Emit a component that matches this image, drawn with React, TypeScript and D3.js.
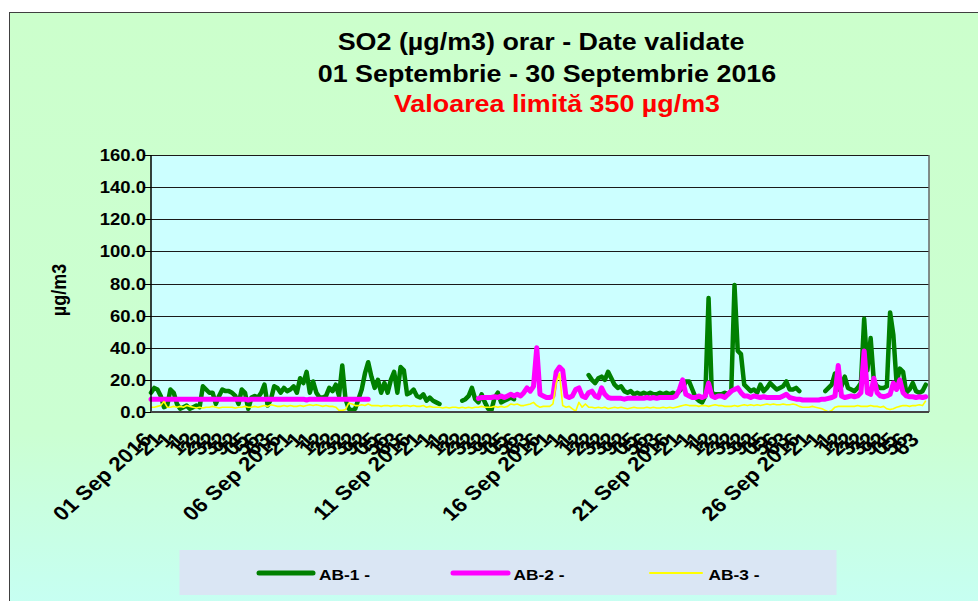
import React from 'react';
import * as d3 from 'd3';

const _ = null;

// 3-hour readings per day (8 per day), 01–30 Sep 2016
const ab1: (number | null)[][] = [
  [12, 15, 14, 10, 3, 4, 14, 12],
  [5, 2, 3, 4, 2, 3, 4, 3],
  [16, 14, 12, 12, 5, 10, 14, 13],
  [13, 12, 10, 5, 14, 12, 2, 9],
  [10, 9, 12, 17, 4, 8, 16, 15],
  [12, 15, 13, 14, 16, 12, 21, 18],
  [25, 12, 19, 12, 9, 9, 10, 15],
  [13, 17, 10, 29, 8, 2, 1, 2],
  [8, 14, 24, 31, 22, 15, 20, 12],
  [18, 12, 20, 25, 12, 28, 26, 11],
  [12, 14, 10, 9, 11, 7, 9, 7],
  [6, 5, _, _, _, _, _, _],
  [7, 8, 10, 15, 8, 6, 11, 6],
  [2, 1, 9, 12, 6, 7, 8, 9],
  [8, _, _, _, _, _, _, _],
  [_, _, _, _, _, _, _, _],
  [_, _, _, _, _, _, _, 23],
  [20, 18, 21, 22, 20, 25, 21, 17],
  [15, 16, 13, 12, 13, 11, 12, 11],
  [12, 11, 12, 11, 11, 12, 11, 12],
  [11, 12, 11, 13, 15, 19, 19, 14],
  [9, 7, 6, 10, 71, 12, 11, 11],
  [11, 12, 11, 13, 79, 38, 36, 17],
  [15, 13, 14, 12, 17, 13, 15, 18],
  [16, 14, 15, 16, 19, 14, 14, 15],
  [13, _, _, _, _, _, _, _],
  [13, 15, 17, 24, 14, 16, 22, 15],
  [14, 13, 15, 18, 58, 26, 46, 19],
  [16, 15, 15, 16, 62, 48, 18, 27],
  [25, 12, 14, 18, 13, 12, 13, 17],
];

const ab2: (number | null)[][] = [
  [8, 8, 8, 8, 8, 8, 8, 8],
  [8, 8, 8, 8, 8, 8, 8, 8],
  [8, 8, 8, 8, 8, 8, 8, 8],
  [8, 8, 8, 8, 8, 8, 7.5, 8],
  [8, 8, 8, 8, 8, 8, 8, 8],
  [8, 8, 8, 8, 8, 8, 8, 8],
  [7.5, 8, 8, 8, 8, 8, 8, 8],
  [8, 8, 8, 8, 8, 8, 8, 8],
  [8, 8, 8, 8, _, _, _, _],
  [_, _, _, _, _, _, _, _],
  [_, _, _, _, _, _, _, _],
  [_, _, _, _, _, _, _, _],
  [_, _, _, _, _, 8.5, 9, 9],
  [9, 9, 9.5, 9, 10, 9, 10, 11],
  [10, 11, 10, 12, 15, 13, 16, 40],
  [11, 10, 9, 9, 10, 25, 28, 26],
  [10, 9, 10, 14, 15, 10, 9, 12],
  [13, 10, 9, 15, 11, 9, 8.5, 8.5],
  [8.5, 8.5, 8, 8.5, 8.5, 8.5, 8.5, 8.5],
  [8.5, 9, 8.5, 9, 8.5, 9, 9, 9],
  [9, 9, 10, 14, 20, 11, 10, 9],
  [9, 10, 9, 10, 18, 10, 9, 10],
  [10, 9, 11, 13, 14, 15, 12, 10],
  [10, 9, 10, 9.5, 9, 9.5, 9, 9],
  [9, 9, 9, 10, 11, 9, 8.5, 8],
  [8, 7.5, 7.5, 7.5, 7.5, 7.5, 7.5, 8],
  [8, 8.5, 9, 10, 29, 10, 9, 9.5],
  [10, 9.5, 10, 12, 38, 12, 11, 21],
  [12, 10, 9.5, 10, 11, 18, 14, 20],
  [12, 10, 9.5, 9.5, 9, 9.5, 9, 9.5],
];

const ab3: (number | null)[][] = [
  [3, 3, 3.5, 4, 6.5, 3, 3, 3.5],
  [3, 3.5, 3, 4, 3.5, 3, 2.5, 3],
  [2.5, 3, 3, 3.5, 3, 2.5, 3, 3],
  [3, 3, 2.5, 3, 3, 3.5, 3, 3],
  [3.5, 3, 3.5, 4, 3.5, 4.5, 4, 3.5],
  [3.5, 4, 3.5, 4, 3.5, 3.5, 4, 3.5],
  [4, 4.5, 4, 4.5, 4, 3.5, 4, 3.5],
  [3.5, 3, 1, 1, 1.5, 5.5, 5, 4],
  [4, 4.5, 4, 5, 4, 4, 4, 3.5],
  [4, 4, 3.5, 4, 4, 3.5, 4, 4],
  [3.5, 4, 3.5, 3.5, 4, 3, 3.5, 3],
  [3, 3, 2.5, 3, 2.5, 3, 3, 2.5],
  [3, 2.5, 3, 2.5, 3, 3, 3.5, 3],
  [3, 3, 3.5, 3, 3.5, 3, 3.5, 5],
  [4.5, 5, 4, 4, 4.5, 5, 6, 4],
  [3, 3.5, 3.5, 3.5, 5, 18, 24, 4],
  [3, 3.5, 2, 0.5, 6, 3, 5, 3],
  [3, 2.5, 3, 2.5, 3, 2, 2.5, 3],
  [2.5, 3, 2.5, 2, 2.5, 3, 2.5, 2.5],
  [2.5, 3, 2.5, 3, 2.5, 2.5, 3, 2.5],
  [3, 2.5, 3, 3.5, 4, 4.5, 4, 4],
  [4, 3.5, 4, 4, 3.5, 4, 4.5, 4],
  [4, 3.5, 3.5, 3.5, 4, 3.5, 4, 4.5],
  [4, 4.5, 4, 4.5, 4, 4.5, 5, 4.5],
  [5, 4.5, 4.5, 5, 4.5, 4.5, 5, 4.5],
  [3.5, 3, 3, 3, 3.5, 3, 2.5, 2],
  [1, 0, 1, 3, 3.5, 3.5, 3.5, 3.5],
  [3.5, 3.5, 4, 3.5, 3.5, 3.5, 4, 3.5],
  [3.5, 3, 3.5, 2, 1.5, 2, 3, 3.5],
  [4, 4, 3.5, 4, 4, 4.5, 4, 7],
];

const yTicks = [0, 20, 40, 60, 80, 100, 120, 140, 160];
const majorLabels = ['01 Sep 2016', '06 Sep 2016', '11 Sep 2016', '16 Sep 2016', '21 Sep 2016', '26 Sep 2016'];
const majorHours = [0, 120, 240, 360, 480, 600];
const fragmentLabels = ['21', '1', '1', '12', '22', '32', '32', '92', '05', '56', '63'];
const seriesNames = ['AB-1 -', 'AB-2 -', 'AB-3 -'];
const titleLines = ['SO2 (µg/m3) orar - Date validate', '01 Septembrie - 30 Septembrie 2016', 'Valoarea limită 350 µg/m3'];

const FONT = '"Liberation Sans", Arial, Helvetica, sans-serif';
const SX = 1.12;

export default function App() {
  const W = 978, H = 601;
  const left = 151, right = 929, top = 155, bottom = 412;
  const x = d3.scaleLinear().domain([0, 720]).range([left, right]);
  const y = d3.scaleLinear().domain([0, 160]).range([bottom, top]);
  const line = d3
    .line<number | null>()
    .defined((d) => d != null)
    .x((_d, i) => x(i * 3))
    .y((d) => y(d as number));

  const s1 = ab1.flat();
  const s2 = ab2.flat();
  const s3 = ab3.flat();

  const frags: { h: number; t: string }[] = [];
  majorHours.forEach((mh) => {
    fragmentLabels.forEach((t, i) => {
      const h = mh + 10 * (i + 1);
      if (h < 720) frags.push({ h, t });
    });
  });

  const legendItems = [
    { name: seriesNames[0], color: '#008000', w: 5, x1: 259, x2: 313, tx: 319 },
    { name: seriesNames[1], color: '#ff00ff', w: 5, x1: 453, x2: 508, tx: 513.5 },
    { name: seriesNames[2], color: '#ffff00', w: 2, x1: 650, x2: 702, tx: 708.5 },
  ];

  return (
    <svg width={W} height={H} style={{ position: 'absolute', left: 0, top: 0 }} fontFamily={FONT}>
      <defs>
        <linearGradient id="bg" x1="0" y1="0" x2="0" y2="1">
          <stop offset="0" stopColor="#ccffcc" />
          <stop offset="0.7" stopColor="#cbffd2" />
          <stop offset="1" stopColor="#c6fff4" />
        </linearGradient>
      </defs>
      <rect x={0} y={0} width={W} height={H} fill="#ffffff" />
      <rect x={9.5} y={12.5} width={W} height={H} fill="url(#bg)" stroke="#404040" strokeWidth={1} />

      {/* titles */}
      {[
        { cx: 541, by: 50, c: '#000' },
        { cx: 547, by: 81.5, c: '#000' },
        { cx: 557, by: 111.5, c: '#ff0000' },
      ].map((t, i) => (
        <text
          key={i}
          transform={`translate(${t.cx},${t.by}) scale(${SX},1)`}
          textAnchor="middle"
          fontSize={24}
          fontWeight="bold"
          fill={t.c}
        >
          {titleLines[i]}
        </text>
      ))}

      {/* plot area */}
      <rect x={left} y={top} width={right - left} height={bottom - top} fill="#ccffff" />
      {yTicks.map((v) => (
        <g key={v}>
          {v > 0 && (
            <line x1={left} x2={right} y1={Math.round(y(v)) + 0.5} y2={Math.round(y(v)) + 0.5} stroke="#1a1a1a" strokeWidth={1} />
          )}
          <line x1={left - 7} x2={left} y1={Math.round(y(v)) + 0.5} y2={Math.round(y(v)) + 0.5} stroke="#000" strokeWidth={1} />
          <text
            transform={`translate(${146},${y(v) + 6}) scale(${SX},1)`}
            textAnchor="end"
            fontSize={16.5}
            fontWeight="bold"
            fill="#000"
          >
            {v.toFixed(1)}
          </text>
        </g>
      ))}
      <line x1={right} x2={right} y1={top} y2={bottom} stroke="#666" strokeWidth={1.5} />

      {/* series */}
      <path d={line(s1) || ''} fill="none" stroke="#008000" strokeWidth={4.5} strokeLinejoin="round" strokeLinecap="round" />
      <path d={line(s2) || ''} fill="none" stroke="#ff00ff" strokeWidth={5} strokeLinejoin="round" strokeLinecap="round" />
      <path d={line(s3) || ''} fill="none" stroke="#ffff00" strokeWidth={1.6} strokeLinejoin="round" />

      <line x1={left} x2={left} y1={top} y2={bottom} stroke="#000" strokeWidth={1.5} />
      <line x1={left} x2={right} y1={bottom} y2={bottom} stroke="#444" strokeWidth={2} />

      {/* y axis title */}
      <text
        transform={`translate(66,290) scale(${SX},1) rotate(-90)`}
        textAnchor="middle"
        fontSize={18}
        fontWeight="bold"
        fill="#000"
      >
        µg/m3
      </text>

      {/* x labels */}
      {frags.map((f, i) => (
        <text
          key={'f' + i}
          transform={`translate(${x(f.h) + 2},441) scale(${SX},1) rotate(-45)`}
          textAnchor="end"
          fontSize={20}
          fontWeight="bold"
          fill="#000"
        >
          {f.t}
        </text>
      ))}
      {majorLabels.map((t, i) => (
        <text
          key={t}
          transform={`translate(${x(majorHours[i]) + 2},441) scale(${SX},1) rotate(-45)`}
          textAnchor="end"
          fontSize={20}
          fontWeight="bold"
          fill="#000"
        >
          {t}
        </text>
      ))}

      {/* legend */}
      <rect x={179.5} y={550} width={657} height={45} fill="#dae6f4" />
      {legendItems.map((it) => (
        <g key={it.name}>
          <line x1={it.x1} x2={it.x2} y1={573} y2={573} stroke={it.color} strokeWidth={it.w} strokeLinecap="round" />
          <text transform={`translate(${it.tx},580) scale(${SX},1)`} fontSize={15.5} fontWeight="bold" fill="#000">
            {it.name}
          </text>
        </g>
      ))}
    </svg>
  );
}
